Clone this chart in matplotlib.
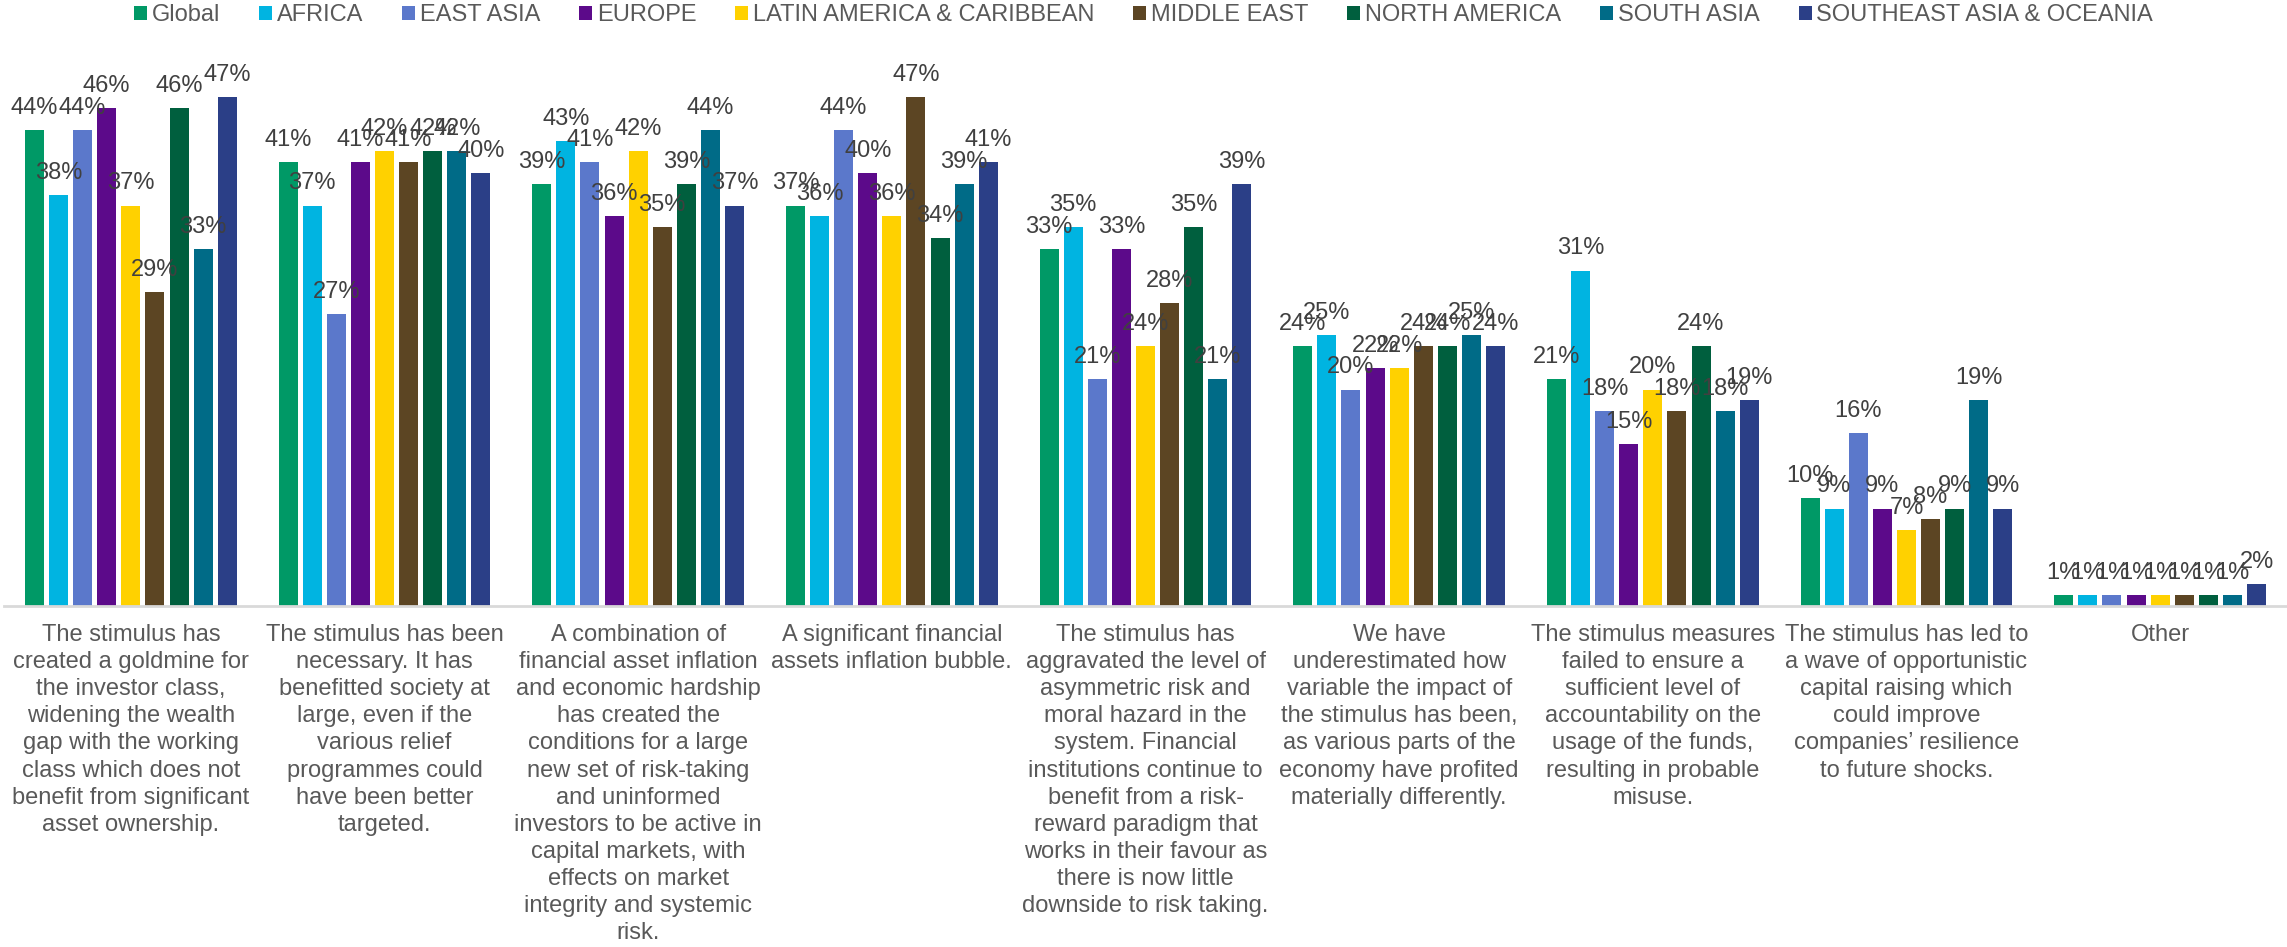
import numpy as np
import matplotlib.pyplot as plt
from matplotlib.patches import Patch

plt.rcParams['font.family'] = ['Liberation Sans', 'DejaVu Sans']

regions = ['Global', 'AFRICA', 'EAST ASIA', 'EUROPE', 'LATIN AMERICA & CARIBBEAN',
           'MIDDLE EAST', 'NORTH AMERICA', 'SOUTH ASIA', 'SOUTHEAST ASIA & OCEANIA']
colors = ['#009966', '#00B4E1', '#5B78CB', '#5C0A8A', '#FFD100',
          '#5C4523', '#005F3E', '#006B87', '#2B3F87']

answers = [
    'The stimulus has\ncreated a goldmine for\nthe investor class,\nwidening the wealth\ngap with the working\nclass which does not\nbenefit from significant\nasset ownership.',
    'The stimulus has been\nnecessary. It has\nbenefitted society at\nlarge, even if the\nvarious relief\nprogrammes could\nhave been better\ntargeted.',
    'A combination of\nfinancial asset inflation\nand economic hardship\nhas created the\nconditions for a large\nnew set of risk-taking\nand uninformed\ninvestors to be active in\ncapital markets, with\neffects on market\nintegrity and systemic\nrisk.',
    'A significant financial\nassets inflation bubble.',
    'The stimulus has\naggravated the level of\nasymmetric risk and\nmoral hazard in the\nsystem. Financial\ninstitutions continue to\nbenefit from a risk-\nreward paradigm that\nworks in their favour as\nthere is now little\ndownside to risk taking.',
    'We have\nunderestimated how\nvariable the impact of\nthe stimulus has been,\nas various parts of the\neconomy have profited\nmaterially differently.',
    'The stimulus measures\nfailed to ensure a\nsufficient level of\naccountability on the\nusage of the funds,\nresulting in probable\nmisuse.',
    'The stimulus has led to\na wave of opportunistic\ncapital raising which\ncould improve\ncompanies\u2019 resilience\nto future shocks.',
    'Other',
]

# share of respondents (%) per answer, one list per region
global_ = [44, 41, 39, 37, 33, 24, 21, 10, 1]
africa = [38, 37, 43, 36, 35, 25, 31, 9, 1]
east_asia = [44, 27, 41, 44, 21, 20, 18, 16, 1]
europe = [46, 41, 36, 40, 33, 22, 15, 9, 1]
latam = [37, 42, 42, 36, 24, 22, 20, 7, 1]
middle_east = [29, 41, 35, 47, 28, 24, 18, 8, 1]
north_america = [46, 42, 39, 34, 35, 24, 24, 9, 1]
south_asia = [33, 42, 44, 39, 21, 25, 18, 19, 1]
sea_oceania = [47, 40, 37, 41, 39, 24, 19, 9, 2]

series = [global_, africa, east_asia, europe, latam, middle_east,
          north_america, south_asia, sea_oceania]

fig = plt.figure(figsize=(22.87, 9.47), dpi=100)
ax = fig.add_axes([4 / 2287, 341 / 947, 2283 / 2287, 566 / 947])

x = np.arange(len(answers))
pitch = 0.095
width = 0.075
for k, (vals, col) in enumerate(zip(series, colors)):
    pos = x + (k - 4) * pitch
    ax.bar(pos, vals, width=width, color=col, zorder=2)
    for px, v in zip(pos, vals):
        ax.annotate('{}%'.format(v), (px, v), xytext=(0, 8), textcoords='offset points',
                    ha='center', va='bottom', fontsize=17, color='#404040')

ax.set_xlim(-0.5, 8.5)
ax.set_ylim(0, 52.3)
ax.set_yticks([])
ax.set_xticks(x)
ax.set_xticklabels(answers, fontsize=17, color='#595959', linespacing=1.3)
ax.tick_params(axis='x', length=0, pad=13)
for s in ['top', 'left', 'right']:
    ax.spines[s].set_visible(False)
ax.spines['bottom'].set_color('#D9D9D9')
ax.spines['bottom'].set_linewidth(2)

handles = [Patch(facecolor=c, label=r) for c, r in zip(colors, regions)]
leg = fig.legend(handles=handles, loc='center', bbox_to_anchor=(0.5, 1 - 15 / 947),
                 ncol=9, frameon=False, fontsize=17, handlelength=0.55, handleheight=0.55,
                 handletextpad=0.2, columnspacing=1.65, borderaxespad=0)
for t in leg.get_texts():
    t.set_color('#595959')

fig.savefig('out.png', dpi=100)
